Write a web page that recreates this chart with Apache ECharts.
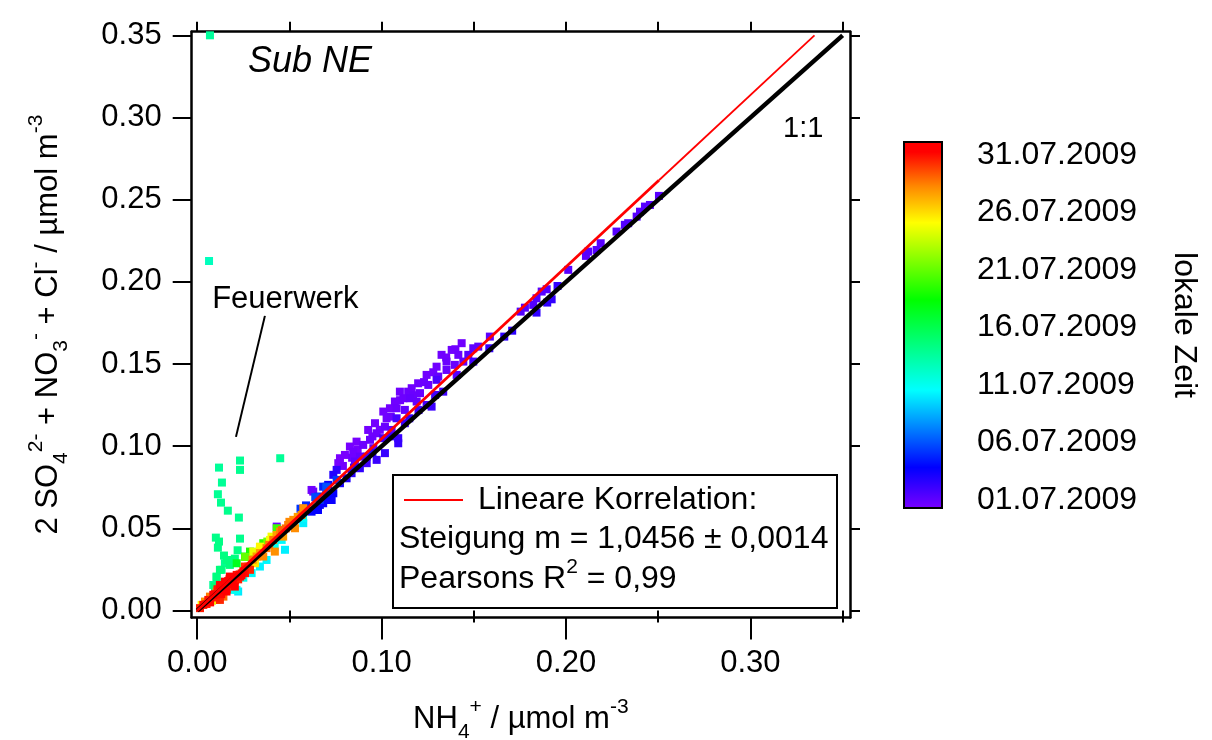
<!DOCTYPE html>
<html>
<head>
<meta charset="utf-8">
<script src="https://cdn.jsdelivr.net/npm/echarts@6/dist/echarts.min.js"></script>
<style>
  html, body { margin: 0; padding: 0; background: #fff; }
  #chart { width: 1212px; height: 740px; }
</style>
</head>
<body>
<div id="chart"></div>
<script>
// Each point: [NH4+ (µmol m-3), 2 SO4 2- + NO3- + Cl- (µmol m-3), day of July 2009]
const earlyJuly = [
  [0.2504,0.2523,1.3],[0.2455,0.2468,1.3],[0.2428,0.2458,1.4],[0.2401,0.2427,1.3],[0.2383,0.2397,1.4],
  [0.2337,0.2357,1.5],[0.2319,0.2347,1.5],[0.2274,0.2306,1.4],[0.2188,0.2235,1.3],[0.2166,0.2194,1.4],
  [0.2120,0.2184,1.3],[0.2108,0.2158,1.2],[0.2012,0.2073,1.3],[0.1954,0.1975,2.4],[0.1895,0.1955,1.4],
  [0.1868,0.1941,1.3],[0.1840,0.1900,1.4],[0.1922,0.1894,2.4],[0.1898,0.1874,2.5],[0.1822,0.1860,1.5],
  [0.1777,0.1843,1.4],[0.1754,0.1819,1.5],[0.1840,0.1813,2.5],[0.1708,0.1703,2.6],[0.1665,0.1667,2.6],
  [0.1587,0.1667,1.2],[0.1524,0.1606,1.1],[0.1584,0.1596,2.4],[0.1497,0.1596,1.1],
  [0.1434,0.1627,0.6],[0.1380,0.1586,0.6],[0.1416,0.1556,0.7],[0.1325,0.1556,0.6],[0.1470,0.1556,1.3],
  [0.1352,0.1515,0.7],[0.1298,0.1484,0.6],[0.1397,0.1495,0.8],[0.1443,0.1515,1.0],[0.1497,0.1515,1.9],
  [0.1352,0.1464,0.8],[0.1407,0.1434,1.4],[0.1307,0.1424,0.9],[0.1244,0.1434,0.6],[0.1198,0.1383,0.6],
  [0.1253,0.1373,0.8],[0.1298,0.1404,1.7],[0.1334,0.1332,2.0],[0.1290,0.1312,2.0],[0.1208,0.1323,0.8],
  [0.1163,0.1353,0.6],[0.1144,0.1332,0.7],[0.1099,0.1332,0.6],[0.1118,0.1292,0.7],[0.1153,0.1292,0.9],
  [0.1190,0.1272,0.9],[0.1244,0.1251,1.9],[0.1271,0.1241,2.1],[0.1072,0.1272,0.6],[0.1045,0.1231,0.5],
  [0.1081,0.1231,0.7],[0.1126,0.1221,1.0],[0.1009,0.1211,0.5],[0.1027,0.1170,0.6],[0.1081,0.1170,1.8],
  [0.1126,0.1140,2.1],[0.0964,0.1140,0.5],[0.1018,0.1119,0.8],[0.1054,0.1099,1.1],[0.0927,0.1099,0.5],
  [0.0973,0.1079,0.7],[0.1009,0.1049,1.9],[0.0937,0.1039,0.8],[0.1090,0.1049,2.2],[0.1090,0.1018,2.3],
  [0.0864,0.1028,0.4],[0.0900,0.1008,0.7],[0.0955,0.0988,1.0],[0.0828,0.0998,0.4],[0.0801,0.0947,0.3],
  [0.0846,0.0967,0.6],[0.0882,0.0937,0.9],[0.0919,0.0937,1.8],[0.0774,0.0927,0.3],[0.0765,0.0897,0.4],
  [0.0855,0.0907,1.1],[0.0919,0.0897,2.0],[0.0973,0.0917,2.2],[0.1018,0.0958,2.3],[0.0882,0.0866,2.5],
  [0.0837,0.0836,2.7],[0.0756,0.0856,2.5],[0.0738,0.0826,2.9],[0.0810,0.0805,3.0],[0.0774,0.0775,3.3],
  [0.0710,0.0765,3.7],[0.0683,0.0754,4.7],[0.0738,0.0714,3.8],[0.0710,0.0673,3.5],[0.0620,0.0734,0.5],
  [0.0656,0.0694,5.0],[0.0665,0.0643,3.5],
  [0.0620,0.0602,3.9],[0.0665,0.0673,5.1],[0.0702,0.0754,5.5],[0.0756,0.0795,5.3],[0.0729,0.0673,3.6],
  [0.0683,0.0653,3.7],[0.0629,0.0724,0.7],[0.0431,0.0511,0.8],[0.0700,0.0750,6.0],[0.0655,0.0612,3.8],
  [0.0560,0.0620,5.3],[0.0590,0.0640,4.9],[0.0640,0.0690,5.8],[0.0700,0.0705,4.0],
  [0.0790,0.0880,0.5],[0.0840,0.0930,0.6],[0.0870,0.0980,0.4],[0.0950,0.1060,0.6],[0.0990,0.1100,0.5],
  [0.1050,0.1180,0.7],[0.1100,0.1280,0.6],[0.1170,0.1310,0.8],[0.1230,0.1390,0.7],[0.1280,0.1450,0.6],
  [0.1350,0.1540,0.5],[0.1400,0.1590,0.6],
  [0.0850,0.0870,2.4],[0.0950,0.0960,2.6],[0.1050,0.1060,2.2],[0.1150,0.1170,2.4],[0.1200,0.1220,2.0]
];

// Mid-July episode, including the fireworks outliers
const midJuly = [
  [0.0069,0.3500,13.6],[0.0064,0.2127,12.6],
  [0.0450,0.0927,13.8],[0.0232,0.0913,13.9],[0.0232,0.0856,14.0],[0.0118,0.0870,13.7],[0.0134,0.0779,13.8],
  [0.0112,0.0708,13.9],[0.0129,0.0657,14.0],[0.0166,0.0608,14.1],[0.0226,0.0566,14.0],[0.0101,0.0444,14.2],
  [0.0118,0.0420,14.3],[0.0112,0.0383,14.2],[0.0232,0.0438,14.1],[0.0219,0.0367,14.3],[0.0145,0.0335,14.4],
  [0.0161,0.0308,14.5],[0.0204,0.0316,14.4],[0.0123,0.0248,14.6],[0.0105,0.0203,14.5],[0.0177,0.0278,14.6],
  [0.0096,0.0146,14.7],
  [0.0087,0.0156,13.8],[0.0105,0.0207,14.2],[0.0150,0.0288,14.0],[0.0186,0.0308,14.5],[0.0132,0.0248,14.3],
  [0.0575,0.0532,10.2],[0.0458,0.0430,10.5],[0.0340,0.0268,10.3],[0.0295,0.0228,10.6],[0.0222,0.0116,10.0],
  [0.0195,0.0126,10.8],[0.0376,0.0308,10.4],[0.0213,0.0126,11.0],[0.0476,0.0370,10.2],[0.0574,0.0564,10.7],
  [0.0420,0.0390,10.9],[0.0250,0.0200,11.2],
  [0.0286,0.0359,19.0],[0.0259,0.0329,18.5],[0.0431,0.0501,20.0],[0.0214,0.0288,17.5],[0.0358,0.0410,19.5],
  [0.0340,0.0370,20.5],[0.0260,0.0326,21.0],[0.0310,0.0340,22.0],[0.0380,0.0420,21.5]
];

const lateJuly = [
  [0.0403,0.0450,24.8],[0.0340,0.0389,25.2],[0.0304,0.0359,24.5],[0.0024,0.0035,25.0],[0.0051,0.0045,25.5],
  [0.0105,0.0065,24.2],[0.0313,0.0288,25.8],[0.0395,0.0430,25.0],[0.0160,0.0140,23.5],[0.0080,0.0060,24.6],
  [0.0575,0.0623,28.0],[0.0566,0.0582,28.2],[0.0521,0.0552,27.9],[0.0493,0.0521,28.4],[0.0530,0.0501,28.1],
  [0.0449,0.0481,28.3],[0.0466,0.0450,27.7],[0.0412,0.0430,28.5],[0.0421,0.0359,28.0],[0.0376,0.0380,28.6],
  [0.0358,0.0329,28.2],[0.0322,0.0329,27.8],[0.0277,0.0268,28.4],[0.0241,0.0228,28.7],[0.0159,0.0146,28.1],
  [0.0105,0.0116,28.3],[0.0069,0.0085,28.5],[0.0042,0.0055,28.0],[0.0142,0.0085,28.8],
  [0.0300,0.0310,28.3],[0.0340,0.0350,27.8],[0.0390,0.0400,28.6],[0.0430,0.0460,27.5],[0.0480,0.0500,28.9],
  [0.0500,0.0540,28.2],[0.0545,0.0570,27.6],[0.0460,0.0490,29.0],
  [0.0286,0.0248,30.4],[0.0259,0.0228,30.8],[0.0232,0.0207,31.0],[0.0204,0.0187,30.6],[0.0177,0.0207,31.2],
  [0.0177,0.0167,30.9],[0.0150,0.0176,31.4],[0.0141,0.0136,30.7],[0.0123,0.0156,31.1],[0.0114,0.0106,30.5],
  [0.0087,0.0096,31.3],[0.0060,0.0065,30.8],[0.0033,0.0035,31.0],[0.0015,0.0015,30.6],[0.0204,0.0146,31.5],
  [0.0259,0.0268,30.2],[0.0214,0.0217,30.9],[0.0159,0.0116,31.2],[0.0123,0.0065,30.4],
  [0.0168,0.0180,30.8],[0.0195,0.0200,31.2],[0.0222,0.0190,30.5],[0.0250,0.0240,31.0],[0.0132,0.0125,31.4],
  [0.0096,0.0100,30.9],[0.0270,0.0255,30.2],[0.0186,0.0160,31.5],[0.0150,0.0150,31.0],[0.0110,0.0130,30.7],
  [0.0100,0.0080,30.6],[0.0130,0.0100,31.0],[0.0160,0.0130,30.3],[0.0190,0.0170,31.3],[0.0230,0.0220,30.7],
  [0.0070,0.0050,31.1],[0.0050,0.0040,30.5],[0.0175,0.0190,31.0],[0.0210,0.0200,30.3],[0.0240,0.0215,31.4]
];

// Reference lines
const oneToOne = [[0, 0], [0.35, 0.35]];
const fitSlope = 1.0456;
const fitSlopeErr = 0.0014;
const pearsonR2 = 0.99;

// Fireworks annotation: pointer line and label anchor
const fireworksPointer = [[0.0367, 0.1793], [0.0210, 0.1057]];
const fireworksLabelAt = [0.0478, 0.1896];

// Tick values and labels
const yTicks = [0, 0.05, 0.10, 0.15, 0.20, 0.25, 0.30, 0.35];
const xMajorTicks = [0, 0.10, 0.20, 0.30];
const xMinorTicks = [0.05, 0.15, 0.25, 0.35];
const topTicks = [0, 0.05, 0.10, 0.15, 0.20, 0.25, 0.30, 0.35];
const timeTicks = [1, 6, 11, 16, 21, 26, 31];
const timeLabels = ['01.07.2009', '06.07.2009', '11.07.2009', '16.07.2009', '21.07.2009', '26.07.2009', '31.07.2009'];

// Colour scale range (day of July) and rainbow stops
const timeMin = 0.3, timeMax = 32.13;
const rainbowStops = [
  [0.000, '#7a00ff'], [0.113, '#0000ff'], [0.323, '#00ffff'], [0.568, '#00ff00'],
  [0.778, '#ffff00'], [0.877, '#ff8800'], [0.970, '#ff0000'], [1.000, '#ff0000']
];

function hexToRgb(h) { return [1, 3, 5].map(i => parseInt(h.substr(i, 2), 16)); }
function rainbowAt(t) {
  for (let i = 1; i < rainbowStops.length; i++) {
    const [o1, c1] = rainbowStops[i - 1], [o2, c2] = rainbowStops[i];
    if (t <= o2) {
      const f = (t - o1) / (o2 - o1 || 1);
      const a = hexToRgb(c1), b = hexToRgb(c2);
      return 'rgb(' + a.map((v, k) => Math.round(v + (b[k] - v) * f)).join(',') + ')';
    }
  }
  return rainbowStops[rainbowStops.length - 1][1];
}
const rainbowList = [];
for (let i = 0; i <= 100; i++) rainbowList.push(rainbowAt(i / 100));

// Later samples are drawn on top of earlier ones
const points = [...earlyJuly, ...midJuly, ...lateJuly].sort((a, b) => a[2] - b[2]);
const fitEndX = Math.max(...points.filter(p => p[2] < 6).map(p => p[0]));
const lineEndX = 0.35 / fitSlope;
const fitLine = [[0, 0], [fitEndX, fitSlope * fitEndX]];
const fitExtension = [[fitEndX, fitSlope * fitEndX], [lineEndX, fitSlope * lineEndX]];

const FONT = 'Liberation Sans, Arial, Helvetica, sans-serif';
const chart = echarts.init(document.getElementById('chart'), null, { renderer: 'canvas' });

const richBase = {
  t:   { fontSize: 31, fontFamily: FONT, color: '#000', lineHeight: 46 },
  sub: { fontSize: 21, fontFamily: FONT, color: '#000', verticalAlign: 'bottom', lineHeight: 21 },
  sup: { fontSize: 21, fontFamily: FONT, color: '#000', verticalAlign: 'top', lineHeight: 21 }
};

const frameLine = { show: true, onZero: false, lineStyle: { color: '#000', width: 2.5 } };
const tickLine = { color: '#000', width: 2 };
const fmt2 = v => Number(v).toFixed(2);

chart.setOption({
  animation: false,
  backgroundColor: '#fff',
  textStyle: { fontFamily: FONT },
  grid: [
    { left: 191.7, right: 362, top: 31.7, bottom: 122.5, containLabel: false, outerBoundsMode: 'none' },
    { left: 904, top: 142, width: 38, height: 366, containLabel: false, outerBoundsMode: 'none' }
  ],
  xAxis: [
    {
      gridIndex: 0, type: 'value', position: 'bottom', min: -0.003, max: 0.354,
      axisLine: frameLine,
      axisTick: { show: true, customValues: xMajorTicks, length: 22, lineStyle: tickLine },
      axisLabel: { show: true, customValues: xMajorTicks, formatter: fmt2, fontSize: 31, color: '#000', margin: 30, fontFamily: FONT },
      splitLine: { show: false },
      name: '{t|NH}{sub|4}{sup|+}{t| / µmol m}{sup|-3}',
      nameLocation: 'middle', nameGap: 79,
      nameTextStyle: { rich: richBase }
    },
    {
      gridIndex: 0, type: 'value', position: 'bottom', min: -0.003, max: 0.354,
      axisLine: { show: false },
      axisTick: { show: true, customValues: xMinorTicks, length: 12, lineStyle: tickLine },
      axisLabel: { show: false }, splitLine: { show: false }
    },
    {
      gridIndex: 0, type: 'value', position: 'top', min: -0.003, max: 0.354,
      axisLine: frameLine,
      axisTick: { show: true, customValues: topTicks, length: 10, lineStyle: tickLine },
      axisLabel: { show: false }, splitLine: { show: false }
    },
    {
      gridIndex: 1, type: 'value', min: 0, max: 1, show: false
    }
  ],
  yAxis: [
    {
      gridIndex: 0, type: 'value', position: 'left', min: -0.0042, max: 0.3522,
      axisLine: frameLine,
      axisTick: { show: true, customValues: yTicks, length: 19, lineStyle: tickLine },
      axisLabel: { show: true, customValues: yTicks, formatter: fmt2, fontSize: 31, color: '#000', margin: 30, fontFamily: FONT },
      splitLine: { show: false },
      name: '{t|2 SO}{sub|4}{sup|2-}{t| + NO}{sub|3}{sup|-}{t| + Cl}{sup|-}{t| / µmol m}{sup|-3}',
      nameLocation: 'middle', nameRotate: 90, nameGap: 120,
      nameTextStyle: { rich: richBase }
    },
    {
      gridIndex: 0, type: 'value', position: 'right', min: -0.0042, max: 0.3522,
      axisLine: frameLine,
      axisTick: { show: true, customValues: yTicks, length: 10, lineStyle: tickLine },
      axisLabel: { show: false }, splitLine: { show: false }
    },
    {
      gridIndex: 1, type: 'value', position: 'right', min: timeMin, max: timeMax,
      axisLine: { show: false },
      axisTick: { show: true, customValues: timeTicks, length: 22, lineStyle: tickLine },
      axisLabel: {
        show: true, customValues: timeTicks, fontSize: 32, color: '#000', margin: 35, fontFamily: FONT,
        formatter: v => timeLabels[timeTicks.indexOf(Math.round(v))]
      },
      splitLine: { show: false },
      name: 'lokale Zeit', nameLocation: 'middle', nameRotate: -90, nameGap: 226,
      nameTextStyle: { fontSize: 32, color: '#000', fontFamily: FONT }
    }
  ],
  visualMap: {
    type: 'continuous', show: false, seriesIndex: 0, dimension: 2,
    min: timeMin, max: timeMax, inRange: { color: rainbowList }
  },
  series: [
    {
      type: 'scatter', xAxisIndex: 0, yAxisIndex: 0, data: points,
      symbol: 'rect', symbolSize: 8, itemStyle: { opacity: 1 }, z: 2, silent: true
    },
    {
      type: 'line', xAxisIndex: 0, yAxisIndex: 0, data: oneToOne, symbol: 'none',
      lineStyle: { color: '#000', width: 4.5 }, z: 3, silent: true
    },
    {
      type: 'line', xAxisIndex: 0, yAxisIndex: 0, data: fitLine, symbol: 'none',
      lineStyle: { color: '#ff0000', width: 2.8 }, z: 4, silent: true
    },
    {
      type: 'line', xAxisIndex: 0, yAxisIndex: 0, data: fitExtension, symbol: 'none',
      lineStyle: { color: '#ff0000', width: 1.8 }, z: 4, silent: true
    },
    {
      type: 'line', xAxisIndex: 0, yAxisIndex: 0, data: fireworksPointer, symbol: 'none',
      lineStyle: { color: '#000', width: 2 }, z: 4, silent: true
    },
    {
      type: 'scatter', xAxisIndex: 0, yAxisIndex: 0, data: [fireworksLabelAt], symbolSize: 1,
      itemStyle: { opacity: 0 },
      label: { show: true, position: 'inside', formatter: 'Feuerwerk', fontSize: 31, color: '#000',
               opacity: 1, textBorderWidth: 0, fontFamily: FONT },
      z: 5, silent: true
    },
    {
      // colour bar
      type: 'custom', xAxisIndex: 3, yAxisIndex: 2, data: [[0]], silent: true, z: 1,
      renderItem: (params, api) => {
        const cs = params.coordSys;
        return {
          type: 'rect',
          shape: { x: cs.x, y: cs.y, width: cs.width, height: cs.height },
          style: {
            fill: new echarts.graphic.LinearGradient(0, 1, 0, 0,
              rainbowStops.map(([o, c]) => ({ offset: o, color: c }))),
            stroke: '#000', lineWidth: 2
          }
        };
      }
    }
  ],
  graphic: [
    {
      type: 'text', left: 248, top: 44, z: 10,
      style: { text: 'Sub NE', font: 'italic 36px ' + FONT, fill: '#000' }
    },
    {
      type: 'text', left: 783, top: 114, z: 10,
      style: { text: '1:1', font: '29px ' + FONT, fill: '#000' }
    },
    {
      type: 'group', left: 392, top: 474, z: 10,
      children: [
        { type: 'rect', shape: { x: 0, y: 0, width: 444, height: 133 },
          style: { fill: '#fff', stroke: '#000', lineWidth: 2 } },
        { type: 'line', shape: { x1: 11, y1: 25, x2: 70, y2: 25 },
          style: { stroke: '#ff0000', lineWidth: 2 } },
        { type: 'text', x: 85, y: 25,
          style: { text: 'Lineare Korrelation:', font: '32px ' + FONT, fill: '#000', verticalAlign: 'middle', textVerticalAlign: 'middle' } },
        { type: 'text', x: 6, y: 64,
          style: { text: 'Steigung m = ' + fitSlope.toFixed(4).replace('.', ',') + ' ± ' + fitSlopeErr.toFixed(4).replace('.', ','),
                   font: '32px ' + FONT, fill: '#000', verticalAlign: 'middle', textVerticalAlign: 'middle' } },
        { type: 'text', x: 6, y: 104,
          style: {
            text: '{t|Pearsons R}{s|2}{t| = ' + pearsonR2.toFixed(2).replace('.', ',') + '}',
            verticalAlign: 'middle', textVerticalAlign: 'middle',
            rich: {
              t: { fontSize: 32, fontFamily: FONT, color: '#000', lineHeight: 44 },
              s: { fontSize: 21, fontFamily: FONT, color: '#000', verticalAlign: 'top', lineHeight: 21 }
            }
          } }
      ]
    }
  ]
});
</script>
</body>
</html>
